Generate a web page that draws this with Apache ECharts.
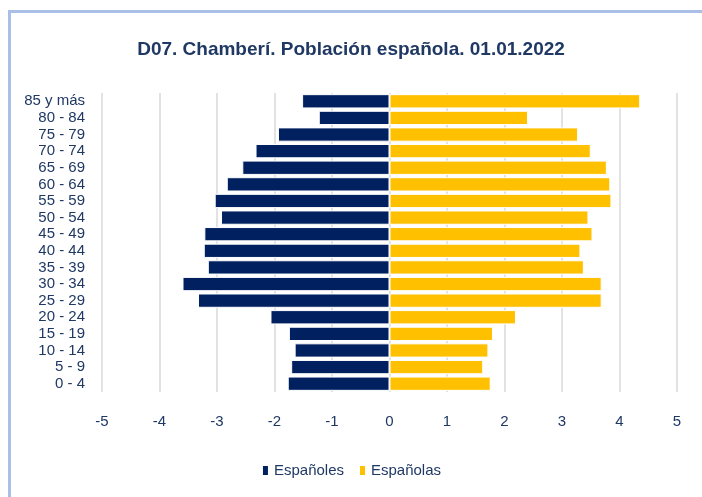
<!DOCTYPE html>
<html>
<head>
<meta charset="utf-8">
<script src="https://cdn.jsdelivr.net/npm/echarts@6/dist/echarts.min.js"></script>
<style>
  html, body { margin: 0; padding: 0; background: #fff; }
  #frame {
    position: absolute; left: 8px; top: 10px; right: -4px; bottom: -4px;
    border-left: 3px solid #a9bfe6; border-top: 3px solid #a9bfe6;
  }
  #chart { position: absolute; left: 0; top: 0; width: 702px; height: 497px; }
</style>
</head>
<body>
<div id="frame"></div>
<div id="chart"></div>
<script>
// grupos de edad, de menor a mayor (el eje y los pinta de abajo arriba)
const ageGroups = ['0 - 4', '5 - 9', '10 - 14', '15 - 19', '20 - 24', '25 - 29', '30 - 34',
  '35 - 39', '40 - 44', '45 - 49', '50 - 54', '55 - 59', '60 - 64', '65 - 69',
  '70 - 74', '75 - 79', '80 - 84', '85 y más']

// porcentaje sobre el total
const espanoles = [1.77, 1.71, 1.65, 1.75, 2.07, 3.33, 3.60, 3.16, 3.23, 3.22,
  2.93, 3.04, 2.83, 2.56, 2.33, 1.94, 1.23, 1.52]
const espanolas = [1.76, 1.63, 1.72, 1.80, 2.20, 3.69, 3.69, 3.38, 3.32, 3.53,
  3.46, 3.86, 3.84, 3.78, 3.50, 3.28, 2.41, 4.36]

const xTicks = { min: -5, max: 5, interval: 1 }

const navy = '#002060'
const gold = '#FFC000'
const textColor = '#1f3864'
const font = "'Liberation Sans', sans-serif"

const chart = echarts.init(document.getElementById('chart'), null, { renderer: 'canvas' })

chart.setOption({
  animation: false,
  title: {
    text: 'D07. Chamberí. Población española. 01.01.2022',
    left: 'center',
    top: 35,
    textStyle: { fontFamily: font, fontSize: 19, fontWeight: 'bold', color: textColor }
  },
  legend: {
    bottom: 14,
    left: 'center',
    itemWidth: 7,
    itemHeight: 11,
    itemGap: 14,
    icon: 'rect',
    textStyle: { fontFamily: font, fontSize: 15, color: textColor },
    data: ['Españoles', 'Españolas']
  },
  grid: { left: 102, right: 25, top: 93, height: 299, containLabel: false },
  xAxis: {
    type: 'value',
    min: xTicks.min,
    max: xTicks.max,
    interval: xTicks.interval,
    axisLine: { show: false },
    axisTick: { show: false },
    axisLabel: { margin: 22, fontFamily: font, fontSize: 15, color: textColor },
    splitLine: { lineStyle: { color: '#d9d9d9', width: 1.5 } }
  },
  yAxis: {
    type: 'category',
    data: ageGroups,
    axisLine: { show: false },
    axisTick: { show: false },
    axisLabel: {
      interval: 0,
      margin: 17,
      fontFamily: font,
      fontSize: 15,
      color: textColor,
      lineHeight: 15
    }
  },
  series: [
    {
      name: 'Españoles',
      type: 'bar',
      data: espanoles.map(v => -v),
      barCategoryGap: '14%',
      barGap: '-100%',
      itemStyle: { color: navy, borderColor: '#fff', borderWidth: 1 }
    },
    {
      name: 'Españolas',
      type: 'bar',
      data: espanolas,
      barCategoryGap: '14%',
      barGap: '-100%',
      itemStyle: { color: gold, borderColor: '#fff', borderWidth: 1 }
    }
  ]
})
</script>
</body>
</html>
